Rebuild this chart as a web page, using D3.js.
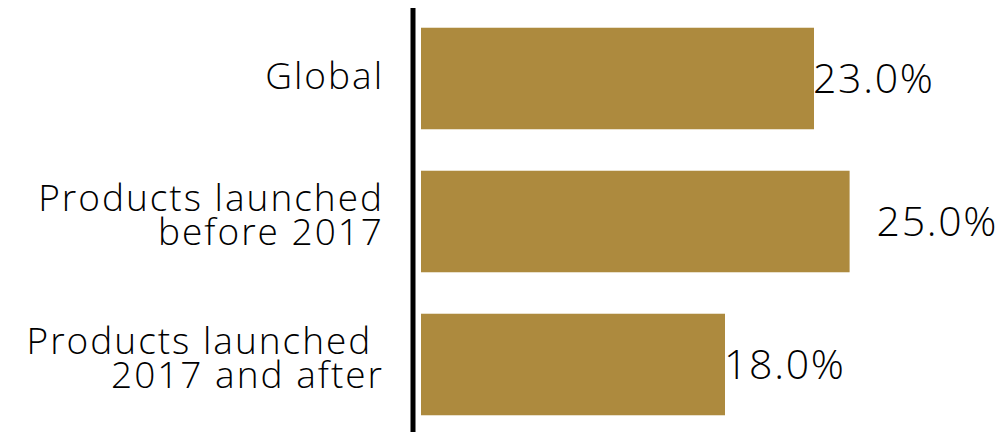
<!DOCTYPE html>
<html>
<head>
<meta charset="utf-8">
<script src="https://cdnjs.cloudflare.com/ajax/libs/d3/7.8.5/d3.min.js"></script>
<style>
  body { margin: 0; background: #fff; }
  svg { display: block; }
  text { font-family: "Open Sans", "Noto Sans", sans-serif; font-weight: 300; fill: #000; }
</style>
</head>
<body>
<div id="chart"></div>
<script>
// chart data
var categories = ["Global", "Products launched before 2017", "Products launched 2017 and after"];
var labelLines = [["Global"], ["Products launched", "before 2017"], ["Products launched ", "2017 and after"]];
var values = [23.0, 25.0, 18.0];

var width = 1003, height = 432;

var x = d3.scaleLinear()
    .domain([0, 25])
    .range([404.6, 849.6]);

var barStart = 421; // bars are clipped where the plot area begins

var y = d3.scaleBand()
    .domain(categories)
    .range([7, 436])
    .paddingInner(0.29)
    .paddingOuter(0.145);

var svg = d3.select("#chart")
    .append("svg")
    .attr("width", width)
    .attr("height", height);

// bars
svg.selectAll("rect.bar")
    .data(values)
    .enter()
    .append("rect")
      .attr("class", "bar")
      .attr("x", barStart)
      .attr("y", function(d, i){ return y(categories[i]); })
      .attr("width", function(d){ return x(d) - barStart; })
      .attr("height", y.bandwidth())
      .style("fill", "#ad8a3e");

// value labels (the largest one sits a bit off the bar end)
var maxVal = d3.max(values);
svg.selectAll("text.value")
    .data(values)
    .enter()
    .append("text")
      .attr("class", "value")
      .attr("x", function(d){ return x(d) + (d === maxVal ? 27 : -1); })
      .attr("y", function(d, i){ return y(categories[i]) + y.bandwidth() / 2; })
      .attr("dy", "0.36em")
      .attr("font-size", "41px")
      .attr("letter-spacing", "1.7px")
      .text(function(d){ return d3.format(".1f")(d) + "%"; });

// category labels
var fs = 37, lineH = 34;
var cats = svg.selectAll("text.cat")
    .data(categories)
    .enter()
    .append("text")
      .attr("class", "cat")
      .attr("text-anchor", "end")
      .attr("font-size", fs + "px")
      .attr("letter-spacing", "2px")
      .style("white-space", "pre")
      .attr("y", function(d){ return y(d) + y.bandwidth() / 2; });

cats.each(function(d, i){
    var lines = labelLines[i];
    var t = d3.select(this);
    lines.forEach(function(l, j){
        t.append("tspan")
          .attr("x", 384)
          .attr("dy", j === 0 ? (lines.length === 1 ? 10.5 : -11) + "px" : lineH + "px")
          .text(l);
    });
});

// axis line
svg.append("line")
    .attr("x1", 413).attr("x2", 413)
    .attr("y1", 8).attr("y2", height)
    .style("stroke", "#000")
    .style("stroke-width", 5);
</script>
</body>
</html>
